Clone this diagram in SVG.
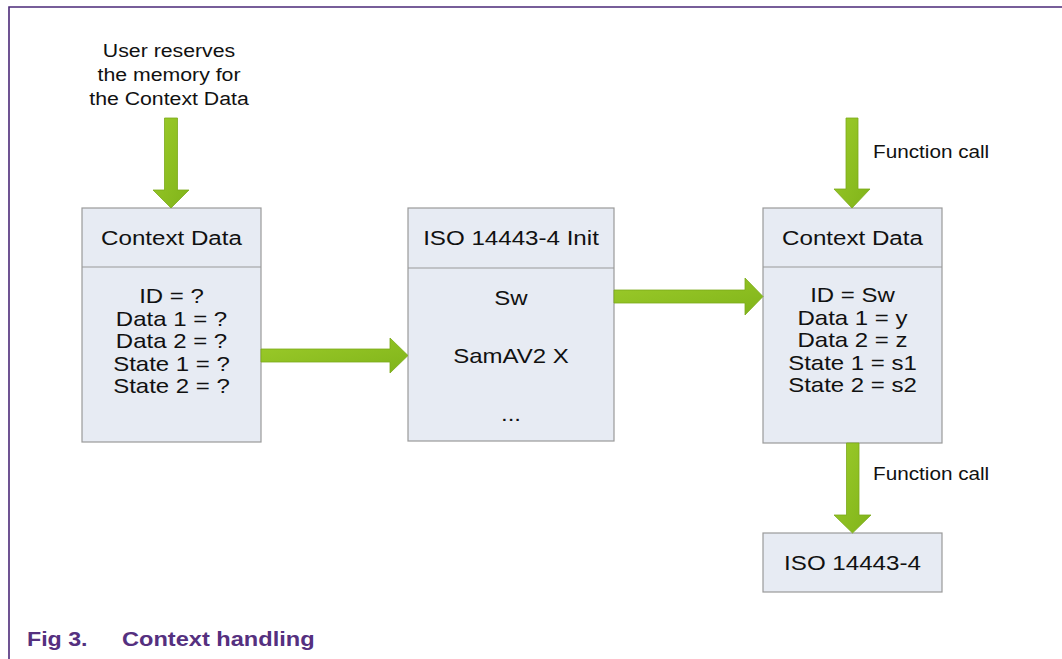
<svg xmlns="http://www.w3.org/2000/svg" width="1062" height="659" viewBox="0 0 1062 659">
<style>
.box{fill:#E7EBF3;stroke:#9A9A9A;stroke-width:1.2}
.div{stroke:#9A9A9A;stroke-width:1.2}
.h{font-family:"Liberation Sans",Arial,sans-serif;font-size:21px;fill:#111;text-anchor:middle}
.t{font-family:"Liberation Sans",Arial,sans-serif;font-size:20px;fill:#111;text-anchor:middle}
.s{font-family:"Liberation Sans",Arial,sans-serif;font-size:19px;fill:#111;text-anchor:middle}
.f{font-family:"Liberation Sans",Arial,sans-serif;font-size:18.5px;fill:#111}
.cap{font-family:"Liberation Sans",Arial,sans-serif;font-size:20px;font-weight:bold;fill:#55307F}
.arr{fill:url(#g);stroke:#7BA91A;stroke-width:0.8}
.frame{stroke:#4B2A78;stroke-width:1.6;fill:none}
</style>
<defs>
<linearGradient id="g" x1="0" y1="0" x2="1" y2="1">
<stop offset="0" stop-color="#9CCB2A"/>
<stop offset="1" stop-color="#80B41A"/>
</linearGradient>
</defs>
<rect width="1062" height="659" fill="#fff"/>
<g id="frame">
<path class="frame" d="M9 659 V7 H1062"/>
</g>
<g id="user-note">
<text class="s" transform="translate(169 57) scale(1.12 1)">User reserves</text>
<text class="s" transform="translate(169 81) scale(1.12 1)">the memory for</text>
<text class="s" transform="translate(169 105) scale(1.12 1)">the Context Data</text>
</g>
<g id="context-data-1">
<rect class="box" x="82" y="208" width="179" height="234"/>
<line class="div" x1="82" y1="267" x2="261" y2="267"/>
<text class="h" transform="translate(171.5 245) scale(1.15 1)">Context Data</text>
<text class="t" transform="translate(171.5 303) scale(1.2 1)">ID = ?</text>
<text class="t" transform="translate(171.5 325.5) scale(1.2 1)">Data 1 = ?</text>
<text class="t" transform="translate(171.5 348) scale(1.2 1)">Data 2 = ?</text>
<text class="t" transform="translate(171.5 370.5) scale(1.2 1)">State 1 = ?</text>
<text class="t" transform="translate(171.5 393) scale(1.2 1)">State 2 = ?</text>
</g>
<g id="iso-init">
<rect class="box" x="408" y="208" width="206" height="233"/>
<line class="div" x1="408" y1="268" x2="614" y2="268"/>
<text class="h" transform="translate(511 245) scale(1.15 1)">ISO 14443-4 Init</text>
<text class="t" transform="translate(511 305) scale(1.2 1)">Sw</text>
<text class="t" transform="translate(511 363) scale(1.2 1)">SamAV2 X</text>
<text class="t" transform="translate(511 421) scale(1.2 1)">...</text>
</g>
<g id="context-data-2">
<rect class="box" x="763" y="208" width="179" height="235"/>
<line class="div" x1="763" y1="267" x2="942" y2="267"/>
<text class="h" transform="translate(852.5 245) scale(1.15 1)">Context Data</text>
<text class="t" transform="translate(852.5 302) scale(1.2 1)">ID = Sw</text>
<text class="t" transform="translate(852.5 324.5) scale(1.2 1)">Data 1 = y</text>
<text class="t" transform="translate(852.5 347) scale(1.2 1)">Data 2 = z</text>
<text class="t" transform="translate(852.5 369.5) scale(1.2 1)">State 1 = s1</text>
<text class="t" transform="translate(852.5 392) scale(1.2 1)">State 2 = s2</text>
</g>
<g id="iso">
<rect class="box" x="763" y="533" width="179" height="59"/>
<text class="h" transform="translate(852.5 570) scale(1.15 1)">ISO 14443-4</text>
</g>
<g id="connectors">
<polygon class="arr" points="164.5,118 177.5,118 177.5,190 189,190 171,208 153,190 164.5,190"/>
<polygon class="arr" points="261,349 390,349 390,338 408,355.5 390,373 390,362 261,362"/>
<polygon class="arr" points="614,290 745,290 745,278 763,296.5 745,315 745,303 614,303"/>
<polygon class="arr" points="846,118 858,118 858,189 870,189 852,208 834,189 846,189"/>
<polygon class="arr" points="846.5,443 859,443 859,515 871,515 852.5,533 834,515 846.5,515"/>
<text class="f" transform="translate(873 158) scale(1.12 1)">Function call</text>
<text class="f" transform="translate(873 480) scale(1.12 1)">Function call</text>
</g>
<g id="caption">
<text class="cap" transform="translate(27 646) scale(1.16 1)">Fig 3.</text>
<text class="cap" transform="translate(122 646) scale(1.18 1)">Context handling</text>
</g>
</svg>
